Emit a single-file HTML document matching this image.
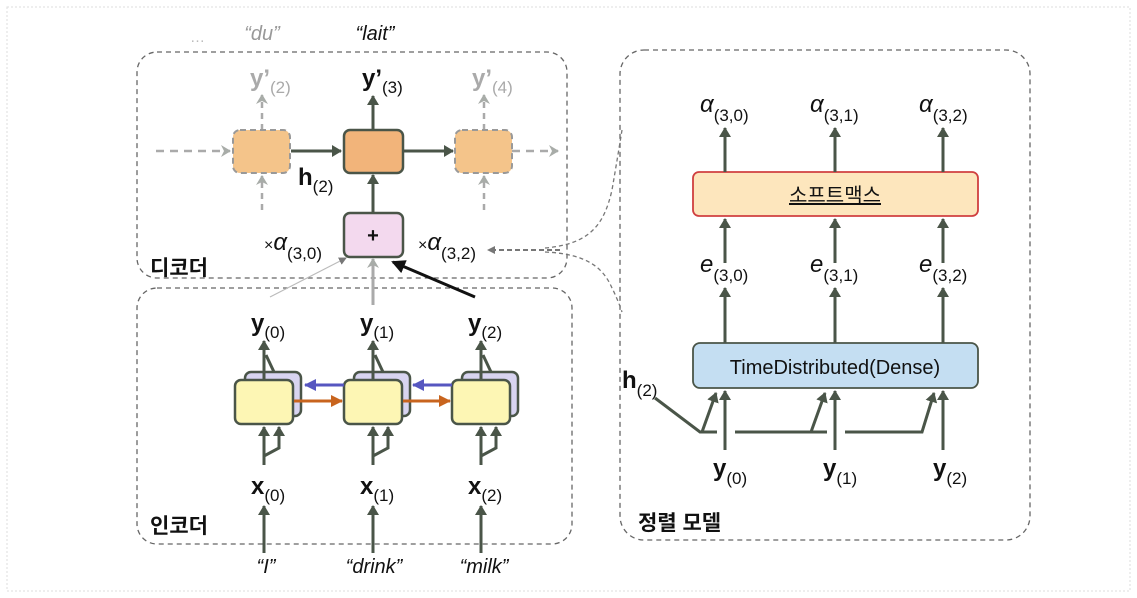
<!DOCTYPE html>
<html><head><meta charset="utf-8"><style>
html,body{margin:0;padding:0;background:#fff;}
svg{display:block;}
text{font-family:"Liberation Sans","Noto Sans CJK KR",sans-serif;}
.s{font-size:17px;font-weight:normal;font-style:normal;}
</style></head><body>
<svg width="1137" height="598" viewBox="0 0 1137 598" xmlns="http://www.w3.org/2000/svg">
<defs>
<marker id="a" markerWidth="10" markerHeight="12" refX="9" refY="6" orient="auto" markerUnits="userSpaceOnUse"><path d="M0,0 L10,6 L0,12 Z" fill="#4a5548"/></marker>
<marker id="ag" markerWidth="10" markerHeight="12" refX="9" refY="6" orient="auto" markerUnits="userSpaceOnUse"><path d="M0,0 L10,6 L0,12 L3,6Z" fill="#a8aca8"/></marker>
<marker id="ab" markerWidth="14" markerHeight="14" refX="12" refY="7" orient="auto" markerUnits="userSpaceOnUse"><path d="M0,0 L14,7 L0,14 Z" fill="#111"/></marker>
<marker id="abl" markerWidth="12" markerHeight="12" refX="11" refY="6" orient="auto" markerUnits="userSpaceOnUse"><path d="M0,0 L12,6 L0,12 Z" fill="#5656c0"/></marker>
<marker id="aor" markerWidth="12" markerHeight="12" refX="11" refY="6" orient="auto" markerUnits="userSpaceOnUse"><path d="M0,0 L12,6 L0,12 Z" fill="#c8641e"/></marker>
<marker id="ad" markerWidth="8" markerHeight="8" refX="7" refY="4" orient="auto" markerUnits="userSpaceOnUse"><path d="M0,0 L8,4 L0,8 Z" fill="#777"/></marker>
</defs>
<rect x="7" y="7" width="1123" height="584" fill="none" stroke="#ddd" stroke-dasharray="2,2"/>

<rect x="137" y="52" width="430" height="226" rx="20" fill="none" stroke="#666" stroke-width="1.3" stroke-dasharray="5,4"/>
<rect x="137" y="288" width="435" height="256" rx="20" fill="none" stroke="#666" stroke-width="1.3" stroke-dasharray="5,4"/>
<rect x="620" y="50" width="410" height="490" rx="24" fill="none" stroke="#666" stroke-width="1.3" stroke-dasharray="5,4"/>

<path d="M545,248 C590,244 604,225 612,190 Q618,155 622,130" fill="none" stroke="#777" stroke-width="1.3" stroke-dasharray="4,3"/>
<path d="M545,252 C590,254 604,270 612,288 Q618,300 622,312" fill="none" stroke="#777" stroke-width="1.3" stroke-dasharray="4,3"/>
<line x1="560" y1="250" x2="488" y2="250" stroke="#777" stroke-width="2" stroke-dasharray="5,3" marker-end="url(#ad)"/>

<!-- decoder -->
<text x="190" y="42" font-size="15" fill="#bbb">…</text>
<text x="262" y="40" font-size="20" font-style="italic" fill="#999" text-anchor="middle">“du”</text>
<text x="375" y="40" font-size="20" font-style="italic" fill="#111" text-anchor="middle">“lait”</text>
<text x="250" y="86" font-size="24" font-weight="bold" fill="#aaa">y’<tspan class="s" dy="7">(2)</tspan></text>
<text x="362" y="86" font-size="24" font-weight="bold" fill="#111">y’<tspan class="s" dy="7">(3)</tspan></text>
<text x="472" y="86" font-size="24" font-weight="bold" fill="#aaa">y’<tspan class="s" dy="7">(4)</tspan></text>

<line x1="156" y1="151" x2="230" y2="151" stroke="#aaa" stroke-width="2.5" stroke-dasharray="8,6" marker-end="url(#ag)"/>
<line x1="512" y1="151" x2="558" y2="151" stroke="#aaa" stroke-width="2.5" stroke-dasharray="8,6" marker-end="url(#ag)"/>
<line x1="262" y1="130" x2="262" y2="95" stroke="#aaa" stroke-width="2.5" stroke-dasharray="6,5" marker-end="url(#ag)"/>
<line x1="262" y1="210" x2="262" y2="176" stroke="#aaa" stroke-width="2.5" stroke-dasharray="6,5" marker-end="url(#ag)"/>
<line x1="484" y1="130" x2="484" y2="95" stroke="#aaa" stroke-width="2.5" stroke-dasharray="6,5" marker-end="url(#ag)"/>
<line x1="484" y1="210" x2="484" y2="176" stroke="#aaa" stroke-width="2.5" stroke-dasharray="6,5" marker-end="url(#ag)"/>
<rect x="233" y="130" width="57" height="43" rx="7" fill="#f4c48a" stroke="#999" stroke-width="2" stroke-dasharray="6,4"/>
<rect x="455" y="130" width="57" height="43" rx="7" fill="#f4c48a" stroke="#999" stroke-width="2" stroke-dasharray="6,4"/>
<line x1="291" y1="151" x2="341" y2="151" stroke="#4a5548" stroke-width="3" marker-end="url(#a)"/>
<line x1="404" y1="151" x2="453" y2="151" stroke="#4a5548" stroke-width="3" marker-end="url(#a)"/>
<rect x="344" y="130" width="59" height="43" rx="6" fill="#f2b47a" stroke="#4a5548" stroke-width="2.5"/>
<line x1="373" y1="129" x2="373" y2="96" stroke="#4a5548" stroke-width="3" marker-end="url(#a)"/>
<line x1="373" y1="213" x2="373" y2="175" stroke="#4a5548" stroke-width="3" marker-end="url(#a)"/>
<text x="298" y="185" font-size="24" font-weight="bold" fill="#111">h<tspan class="s" dy="7">(2)</tspan></text>
<rect x="344" y="213" width="59" height="44" rx="6" fill="#f3d9ee" stroke="#4a5548" stroke-width="2.5"/>
<text x="373" y="242" font-size="20" font-weight="bold" fill="#111" text-anchor="middle">+</text>
<text x="264" y="250" font-size="16" fill="#111">×<tspan font-style="italic" font-size="24">α</tspan><tspan class="s" dy="9">(3,0)</tspan></text>
<text x="418" y="250" font-size="16" fill="#111">×<tspan font-style="italic" font-size="24">α</tspan><tspan class="s" dy="9">(3,2)</tspan></text>
<text x="150" y="275" font-size="21" font-weight="bold" fill="#111">디코더</text>

<line x1="270" y1="297" x2="346" y2="258" stroke="#bbb" stroke-width="1.2" marker-end="url(#ad)"/>
<line x1="373" y1="305" x2="373" y2="259" stroke="#aaa" stroke-width="3" marker-end="url(#ag)"/>
<line x1="475" y1="297" x2="393" y2="262" stroke="#111" stroke-width="3" marker-end="url(#ab)"/>

<!-- encoder -->
<rect x="245" y="372" width="56" height="44" rx="6" fill="#d8d4f0" stroke="#4a5548" stroke-width="2.5"/>
<rect x="235" y="380" width="58" height="44" rx="6" fill="#fdf6b4" stroke="#4a5548" stroke-width="2.5"/>
<rect x="354" y="372" width="56" height="44" rx="6" fill="#d8d4f0" stroke="#4a5548" stroke-width="2.5"/>
<rect x="344" y="380" width="58" height="44" rx="6" fill="#fdf6b4" stroke="#4a5548" stroke-width="2.5"/>
<rect x="462" y="372" width="56" height="44" rx="6" fill="#d8d4f0" stroke="#4a5548" stroke-width="2.5"/>
<rect x="452" y="380" width="58" height="44" rx="6" fill="#fdf6b4" stroke="#4a5548" stroke-width="2.5"/>
<line x1="344" y1="385" x2="305" y2="385" stroke="#5656c0" stroke-width="3" marker-end="url(#abl)"/>
<line x1="452" y1="385" x2="413" y2="385" stroke="#5656c0" stroke-width="3" marker-end="url(#abl)"/>
<line x1="294" y1="401" x2="342" y2="401" stroke="#c8641e" stroke-width="3" marker-end="url(#aor)"/>
<line x1="403" y1="401" x2="450" y2="401" stroke="#c8641e" stroke-width="3" marker-end="url(#aor)"/>

<g stroke="#4a5548" stroke-width="3" fill="none">
<line x1="264" y1="380" x2="264" y2="341" marker-end="url(#a)"/>
<line x1="274" y1="372" x2="266" y2="355"/>
<line x1="373" y1="380" x2="373" y2="341" marker-end="url(#a)"/>
<line x1="383" y1="372" x2="375" y2="355"/>
<line x1="481" y1="380" x2="481" y2="341" marker-end="url(#a)"/>
<line x1="491" y1="372" x2="483" y2="355"/>
<line x1="264" y1="465" x2="264" y2="427" marker-end="url(#a)"/>
<polyline points="264,456 279,448 279,427" marker-end="url(#a)"/>
<line x1="373" y1="465" x2="373" y2="427" marker-end="url(#a)"/>
<polyline points="373,456 388,448 388,427" marker-end="url(#a)"/>
<line x1="481" y1="465" x2="481" y2="427" marker-end="url(#a)"/>
<polyline points="481,456 496,448 496,427" marker-end="url(#a)"/>
<line x1="264" y1="553" x2="264" y2="506" marker-end="url(#a)"/>
<line x1="373" y1="553" x2="373" y2="506" marker-end="url(#a)"/>
<line x1="481" y1="553" x2="481" y2="506" marker-end="url(#a)"/>
</g>
<text x="251" y="331" font-size="24" font-weight="bold" fill="#111">y<tspan class="s" dy="7">(0)</tspan></text>
<text x="360" y="331" font-size="24" font-weight="bold" fill="#111">y<tspan class="s" dy="7">(1)</tspan></text>
<text x="468" y="331" font-size="24" font-weight="bold" fill="#111">y<tspan class="s" dy="7">(2)</tspan></text>
<text x="251" y="494" font-size="24" font-weight="bold" fill="#111">x<tspan class="s" dy="7">(0)</tspan></text>
<text x="360" y="494" font-size="24" font-weight="bold" fill="#111">x<tspan class="s" dy="7">(1)</tspan></text>
<text x="468" y="494" font-size="24" font-weight="bold" fill="#111">x<tspan class="s" dy="7">(2)</tspan></text>
<text x="150" y="533" font-size="21" font-weight="bold" fill="#111">인코더</text>
<text x="266" y="573" font-size="20" font-style="italic" fill="#111" text-anchor="middle">“I”</text>
<text x="374" y="573" font-size="20" font-style="italic" fill="#111" text-anchor="middle">“drink”</text>
<text x="484" y="573" font-size="20" font-style="italic" fill="#111" text-anchor="middle">“milk”</text>

<!-- alignment model -->
<text x="700" y="112" font-size="24" font-style="italic" fill="#111">α<tspan class="s" dy="9">(3,0)</tspan></text>
<text x="810" y="112" font-size="24" font-style="italic" fill="#111">α<tspan class="s" dy="9">(3,1)</tspan></text>
<text x="919" y="112" font-size="24" font-style="italic" fill="#111">α<tspan class="s" dy="9">(3,2)</tspan></text>
<rect x="693" y="172" width="285" height="44" rx="6" fill="#fde6bd" stroke="#d04040" stroke-width="1.8"/>
<text x="835" y="202" font-size="20" fill="#111" text-anchor="middle" text-decoration="underline">소프트맥스</text>
<text x="700" y="272" font-size="24" font-style="italic" fill="#111">e<tspan class="s" dy="9">(3,0)</tspan></text>
<text x="810" y="272" font-size="24" font-style="italic" fill="#111">e<tspan class="s" dy="9">(3,1)</tspan></text>
<text x="919" y="272" font-size="24" font-style="italic" fill="#111">e<tspan class="s" dy="9">(3,2)</tspan></text>
<rect x="693" y="343" width="285" height="45" rx="7" fill="#c4def2" stroke="#4a5548" stroke-width="1.8"/>
<text x="835" y="374" font-size="20" fill="#111" text-anchor="middle">TimeDistributed(Dense)</text>
<g stroke="#4a5548" stroke-width="3" fill="none">
<line x1="725" y1="172" x2="725" y2="128" marker-end="url(#a)"/>
<line x1="835" y1="172" x2="835" y2="128" marker-end="url(#a)"/>
<line x1="943" y1="172" x2="943" y2="128" marker-end="url(#a)"/>
<line x1="725" y1="263" x2="725" y2="219" marker-end="url(#a)"/>
<line x1="835" y1="263" x2="835" y2="219" marker-end="url(#a)"/>
<line x1="943" y1="263" x2="943" y2="219" marker-end="url(#a)"/>
<line x1="725" y1="343" x2="725" y2="288" marker-end="url(#a)"/>
<line x1="835" y1="343" x2="835" y2="288" marker-end="url(#a)"/>
<line x1="943" y1="343" x2="943" y2="288" marker-end="url(#a)"/>
<line x1="725" y1="450" x2="725" y2="391" marker-end="url(#a)"/>
<line x1="835" y1="450" x2="835" y2="391" marker-end="url(#a)"/>
<line x1="943" y1="450" x2="943" y2="391" marker-end="url(#a)"/>
<polyline points="655,398 700,432 717,432"/>
<line x1="735" y1="432" x2="827" y2="432"/>
<line x1="845" y1="432" x2="917" y2="432"/>
<line x1="702" y1="432" x2="716" y2="393" marker-end="url(#a)"/>
<line x1="811" y1="432" x2="825" y2="393" marker-end="url(#a)"/>
<polyline points="917,432 922,432 934,393" marker-end="url(#a)"/>
</g>
<text x="622" y="388" font-size="24" font-weight="bold" fill="#111">h<tspan class="s" dy="8">(2)</tspan></text>
<text x="713" y="476" font-size="24" font-weight="bold" fill="#111">y<tspan class="s" dy="8">(0)</tspan></text>
<text x="823" y="476" font-size="24" font-weight="bold" fill="#111">y<tspan class="s" dy="8">(1)</tspan></text>
<text x="933" y="476" font-size="24" font-weight="bold" fill="#111">y<tspan class="s" dy="8">(2)</tspan></text>
<text x="638" y="530" font-size="21" font-weight="bold" fill="#111">정렬 모델</text>
</svg>
</body></html>
